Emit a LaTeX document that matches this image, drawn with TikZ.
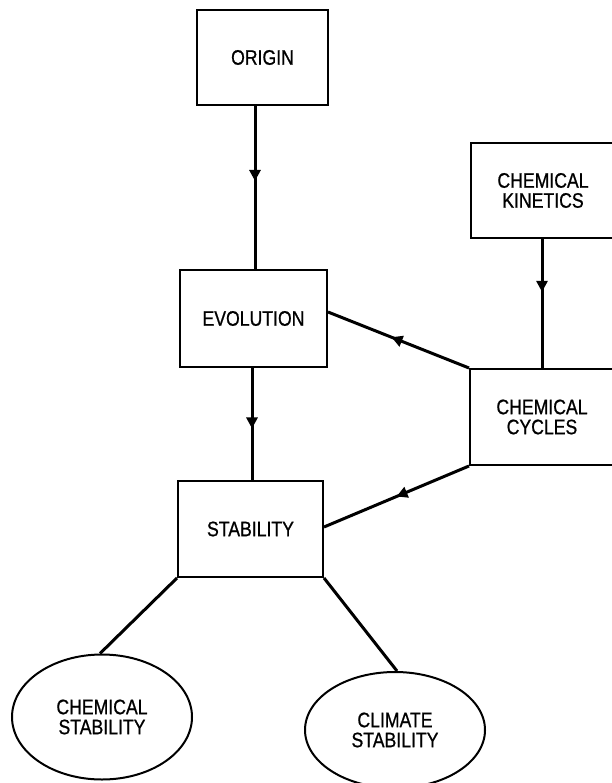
\documentclass[tikz,border=0pt]{standalone}
\usepackage{fontspec}
\setmainfont[FakeStretch=0.84,FakeBold=0.8]{Liberation Sans}
\usetikzlibrary{arrows.meta,decorations.markings,shapes.geometric}
\begin{document}
\begin{tikzpicture}[x=1pt,y=-1pt,
  box/.style={draw,line width=2pt,rectangle,inner sep=0pt,align=center,
    font=\fontsize{21}{20}\selectfont},
  oval/.style={draw,line width=2pt,ellipse,inner sep=0pt,align=center,
    font=\fontsize{21}{20}\selectfont},
  conn/.style={line width=3pt},
  midarrow/.style={postaction={decorate,decoration={markings,
    mark=at position #1 with {\arrow{Triangle[length=11pt,width=11pt]}}}}}]
\useasboundingbox (0,0) rectangle (611,783);
\node[box,minimum width=131pt,minimum height=95pt] (org) at (262.5,57.5) {ORIGIN};
\node[box,minimum width=147pt,minimum height=97pt] (evo) at (253.5,318.5) {EVOLUTION};
\node[box,minimum width=145pt,minimum height=96pt] (stab) at (250.5,529) {STABILITY};
\node[box,minimum width=144pt,minimum height=95pt] (kin) at (543,190.5) {CHEMICAL\\KINETICS};
\node[box,minimum width=144pt,minimum height=96pt] (cyc) at (542,417) {CHEMICAL\\CYCLES};
\node[oval,minimum width=180pt,minimum height=125pt] (chs) at (102,717) {CHEMICAL\\STABILITY};
\node[oval,minimum width=180pt,minimum height=116pt] (cls) at (395,730) {CLIMATE\\STABILITY};
\draw[conn,midarrow=0.46] ([xshift=-7.5pt]org.south) -- ([xshift=1.5pt]evo.north);
\draw[conn,midarrow=0.54] ([xshift=-1.5pt]evo.south) -- ([xshift=1.5pt]stab.north);
\draw[conn,midarrow=0.41] ([xshift=-1pt]kin.south) -- (cyc.north);
\draw[conn,midarrow=0.55] (cyc.north west) -- ([yshift=6.5pt]evo.east);
\draw[conn,midarrow=0.5] (cyc.south west) -- ([yshift=2pt]stab.east);
\draw[conn] (stab.south west) -- ([xshift=-2pt]chs.north);
\draw[conn] (stab.south east) -- ([xshift=2pt]cls.north);
\end{tikzpicture}
\end{document}
